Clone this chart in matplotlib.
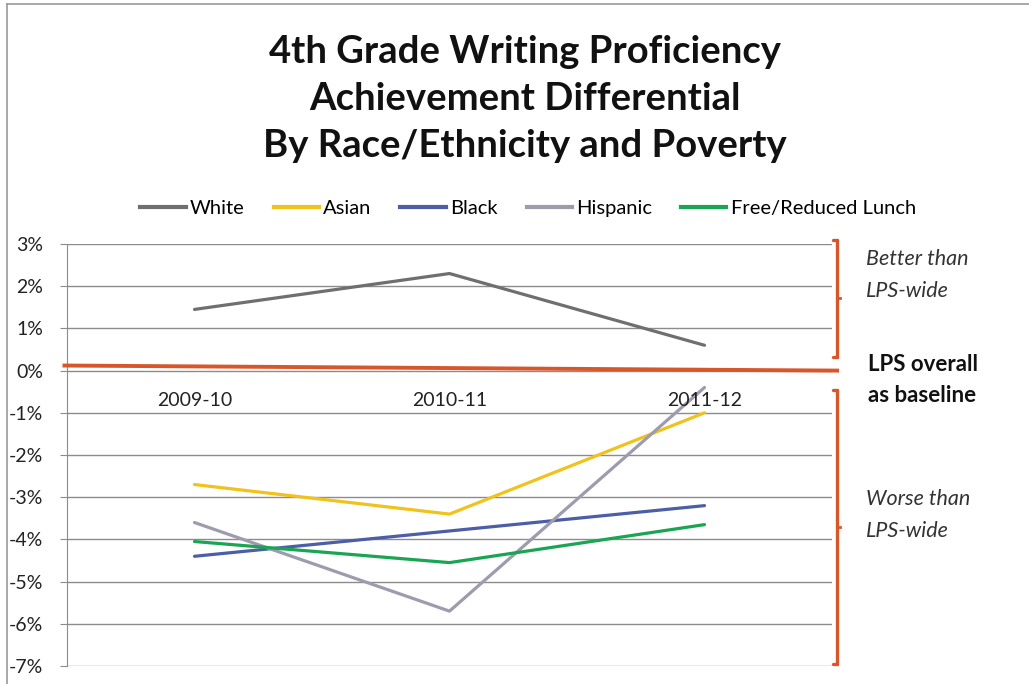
import matplotlib
matplotlib.use("Agg")
import matplotlib.pyplot as plt
from matplotlib.lines import Line2D
from matplotlib.ticker import FuncFormatter

years = ["2009-10", "2010-11", "2011-12"]
white = [1.45, 2.3, 0.6]
asian = [-2.7, -3.4, -1.0]
black = [-4.4, -3.8, -3.2]
hispanic = [-3.6, -5.7, -0.4]
frl = [-4.05, -4.55, -3.65]
series_names = ["White", "Asian", "Black", "Hispanic", "Free/Reduced Lunch"]
series_colors = ["#6f6f6f", "#f1c21b", "#4b5ea6", "#9d9cae", "#1aa552"]
baseline = [0.12, 0.0]

plt.rcParams['font.family'] = ['Lato', 'DejaVu Sans']
fig = plt.figure(figsize=(10.29, 6.84), dpi=100)
ax = fig.add_axes([67/1029, 1-666/684, 765/1029, 422/684])

xs = list(range(len(years)))
for vals, name, col in zip([white, asian, black, hispanic, frl], series_names, series_colors):
    ax.plot(xs, vals, color=col, lw=2.3, label=name, solid_capstyle='round', zorder=3)

ax.set_xlim(-0.5, 2.5)
ax.set_ylim(-7, 3)
ax.set_yticks(range(-7, 4))
ax.yaxis.set_major_formatter(FuncFormatter(lambda v, p: f"{int(v)}%"))
ax.grid(axis='y', color='#8c8c8c', lw=1.0)
ax.set_axisbelow(True)
for s in ['top', 'right', 'bottom']:
    ax.spines[s].set_visible(False)
ax.spines['left'].set_color('#8c8c8c')
ax.tick_params(axis='y', length=5, color='#8c8c8c', labelsize=14, pad=12, labelcolor='#222222')
ax.set_xticks([])
for x, lab in zip(xs, years):
    ax.text(x, -0.70, lab, ha='center', va='center', fontsize=14, color='#222222')

# orange baseline
ax.plot([-0.51, 2.52], baseline, color='#d8572a', lw=2.8, clip_on=False, zorder=4)

# brackets
def bracket(y0, y1, ym):
    xb = 2.52
    ax.plot([xb, xb], [y0, y1], color='#d8572a', lw=2.4, clip_on=False, solid_capstyle='round')
    ax.plot([xb - 0.015, xb], [y0, y0], color='#d8572a', lw=2.4, clip_on=False, solid_capstyle='round')
    ax.plot([xb - 0.015, xb], [y1, y1], color='#d8572a', lw=2.4, clip_on=False, solid_capstyle='round')
    ax.plot([xb, xb + 0.012], [ym, ym], color='#d8572a', lw=2.0, clip_on=False)

bracket(3.1, 0.32, 1.72)
bracket(-0.45, -6.95, -3.7)

fig.text(866/1029, 1-275/684, "Better than\nLPS-wide", fontsize=15.5, style='italic',
         ha='left', va='center', color='#333333', linespacing=1.75)
fig.text(868/1029, 1-380/684, "LPS overall\nas baseline", fontsize=16, weight='bold',
         ha='left', va='center', color='#111111', linespacing=1.6)
fig.text(866/1029, 1-515/684, "Worse than\nLPS-wide", fontsize=15.5, style='italic',
         ha='left', va='center', color='#333333', linespacing=1.75)

fig.text(525/1029, 1-99/684, "4th Grade Writing Proficiency\nAchievement Differential\nBy Race/Ethnicity and Poverty",
         ha='center', va='center', fontsize=27.5, weight='bold', linespacing=1.47, color='#111111')

handles = [Line2D([0], [0], color=c, lw=3) for c in series_colors]
fig.legend(handles, series_names, loc='center', bbox_to_anchor=(528/1029, 1-208/684), ncol=5,
           frameon=False, fontsize=14.5, handlelength=2.25, handletextpad=0.2, columnspacing=1.45)

# frame border
fig.add_artist(Line2D([7/1029, 7/1029], [0, 1-4/684], transform=fig.transFigure, color='#9a9a9a', lw=1.2))
fig.add_artist(Line2D([7/1029, 1], [1-4/684, 1-4/684], transform=fig.transFigure, color='#9a9a9a', lw=1.2))

fig.savefig("out.png", dpi=100)
